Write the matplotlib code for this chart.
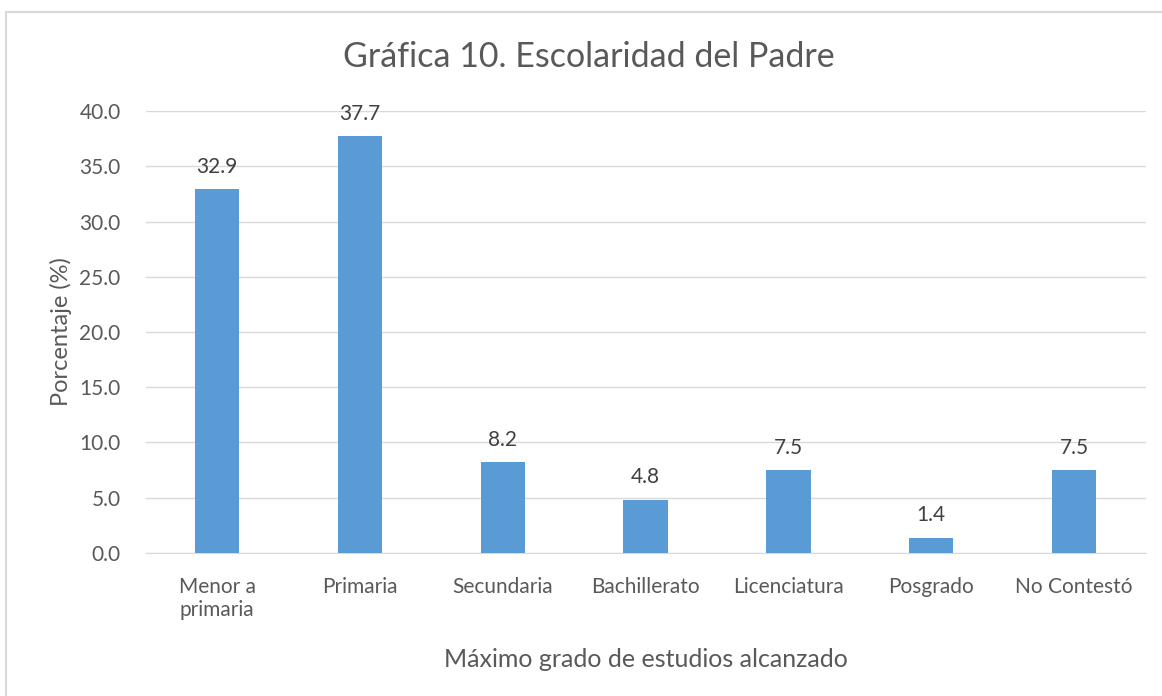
import matplotlib.pyplot as plt
from matplotlib.patches import Rectangle

categorias = ["Menor a\nprimaria", "Primaria", "Secundaria", "Bachillerato",
              "Licenciatura", "Posgrado", "No Contestó"]
porcentajes = [32.9, 37.7, 8.2, 4.8, 7.5, 1.4, 7.5]
ticks_y = [0, 5, 10, 15, 20, 25, 30, 35, 40]

plt.rcParams["font.family"] = ["Lato", "DejaVu Sans"]
gris = "#595959"

fig = plt.figure(figsize=(11.62, 6.96), dpi=100)
ax = fig.add_axes([0.1253, 0.2055, 0.8606, 0.635])

# marco exterior del gráfico (solo se ve arriba e izquierda)
fig.patches.append(Rectangle((6 / 1162, -0.1), 1.2, 1 - 12 / 696 + 0.1,
                             transform=fig.transFigure, fill=False,
                             edgecolor="#D9D9D9", linewidth=1.5))

x = range(len(categorias))
ax.bar(x, porcentajes, width=0.31, color="#5B9BD5", zorder=3)
for xi, v in zip(x, porcentajes):
    ax.annotate(f"{v:.1f}", (xi, v), xytext=(0, 9), textcoords="offset points",
                ha="center", va="bottom", fontsize=15, color="#404040")

ax.set_xlim(-0.5, len(categorias) - 0.5)
ax.set_ylim(0, 40)
ax.set_yticks(ticks_y)
ax.set_yticklabels([f"{t:.1f}" for t in ticks_y])
ax.set_xticks(list(x))
ax.set_xticklabels(categorias, linespacing=1.2)
ax.tick_params(axis="both", length=0, labelsize=15, colors=gris)
ax.tick_params(axis="x", pad=17)
ax.tick_params(axis="y", pad=18)
ax.grid(axis="y", color="#D9D9D9", linewidth=1, zorder=0)
for s in ["top", "right", "left"]:
    ax.spines[s].set_visible(False)
ax.spines["bottom"].set_color("#D9D9D9")

ax.set_ylabel("Porcentaje (%)", fontsize=17, color=gris, labelpad=5)
ax.set_xlabel("Máximo grado de estudios alcanzado", fontsize=18,
              color=gris, labelpad=20)
fig.text(0.507, 0.918, "Gráfica 10. Escolaridad del Padre", ha="center",
         va="center", fontsize=24.5, color=gris)

fig.savefig("out.png", dpi=100)
